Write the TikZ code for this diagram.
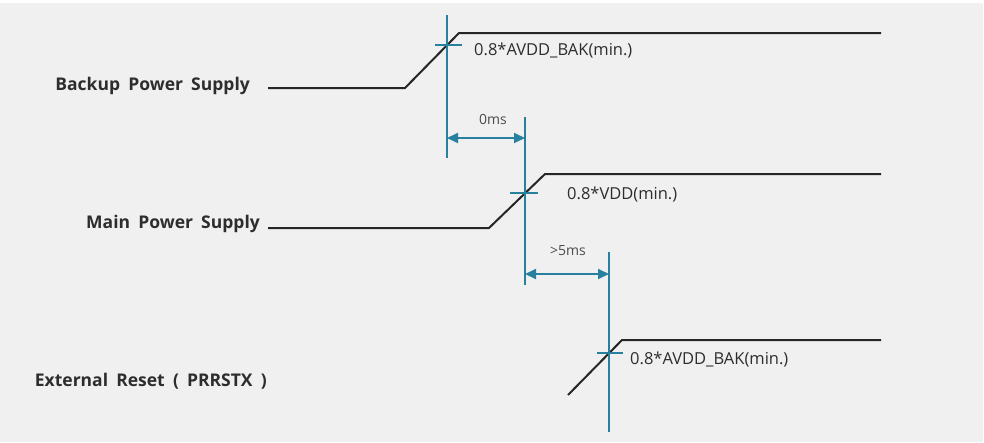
\documentclass[tikz,border=0pt]{standalone}
\usepackage{fontspec}
\setmainfont{Open Sans}[WordSpace=1.8]
\usetikzlibrary{arrows.meta}
\definecolor{bgcol}{RGB}{240,240,240}
\definecolor{markcol}{RGB}{38,128,158}
\definecolor{txtcol}{RGB}{45,45,45}
\begin{document}
\begin{tikzpicture}[x=1pt,y=-1pt,line join=round,
  signal/.style={black!85,line width=2pt},
  marker/.style={markcol,line width=1.4pt},
  gap/.style={markcol,line width=1.8pt,{Triangle[length=11pt,width=10pt]}-{Triangle[length=11pt,width=10pt]}},
  rail/.style={font=\fontsize{17.5}{20}\selectfont\bfseries,text=txtcol,anchor=base east,inner sep=0pt},
  level/.style={font=\fontsize{16.5}{19}\selectfont,text=txtcol,anchor=base west,inner sep=0pt},
  delay/.style={font=\fontsize{14}{16}\selectfont,text=txtcol!85,inner sep=0pt}]
% Define dimensions
\def\xend{881}   % right end of the rails

% Background
\useasboundingbox (0,0) rectangle (984,442);
\fill[bgcol] (0,3) rectangle (983,442);

% Rail labels
\node[rail] (bps) at (250,90)  {Backup Power Supply};
\node[rail] (mps) at (260,228) {Main Power Supply};
\node[rail] (ext) at (267,386) {External Reset ( PRRSTX )};

% Backup power supply
\coordinate (b0) at (268,88);
\coordinate (b1) at (405,88);
\coordinate (b2) at (459,33);
\draw[signal] (b0) -- (b1) -- (b2) -- (\xend,33);

% Main power supply
\coordinate (p0) at (268,228);
\coordinate (p1) at (489,228);
\coordinate (p2) at (545,174);
\draw[signal] (p0) -- (p1) -- (p2) -- (\xend,174);

% External reset
\coordinate (r1) at (568,395);
\coordinate (r2) at (622,340);
\draw[signal] (r1) -- (r2) -- (\xend,340);

% Marker lines
\coordinate (c1) at (447,45);
\coordinate (c2) at (525,193);
\coordinate (c3) at (609,353);
\draw[marker] (447,15) -- (447,158);
\draw[marker] (525,117) -- (525,285);
\draw[marker] (609,252) -- (609,432);
\draw[marker] ([xshift=-12pt]c1) -- ([xshift=15pt]c1);
\draw[marker] ([xshift=-15pt]c2) -- ([xshift=13pt]c2);
\draw[marker] ([xshift=-12pt]c3) -- ([xshift=14pt]c3);

% Levels
\node[level] (lb) at (474,55)  {0.8*AVDD\_BAK(min.)};
\node[level] (lm) at (567,199) {0.8*VDD(min.)};
\node[level] (lr) at (630,364) {0.8*AVDD\_BAK(min.)};

% Delays
\coordinate (d1a) at (447,138);
\coordinate (d1b) at (525,138);
\coordinate (d2a) at (525,274);
\coordinate (d2b) at (609,274);
\draw[gap] (d1a) -- (d1b);
\draw[gap] (d2a) -- (d2b);
\node[delay] (t1) at (493,119) {0ms};
\node[delay] (t2) at (568,251) {>5ms};

\end{tikzpicture}
\end{document}
